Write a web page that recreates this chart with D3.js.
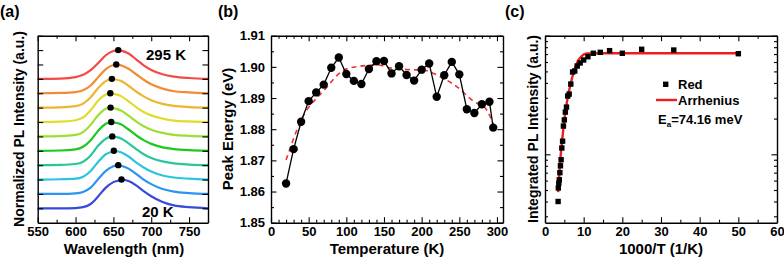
<!DOCTYPE html>
<html>
<head>
<meta charset="utf-8">
<script src="https://cdn.jsdelivr.net/npm/d3@7"></script>
<style>
  body { margin: 0; background: #fff; }
  svg { display: block; font-family: "Liberation Sans", Arial, sans-serif; font-weight: bold; }
</style>
</head>
<body>
<svg id="chart" width="784" height="259"></svg>
<script>
// ---------------- panel (a): stacked PL spectra, 20 K (bottom) -> 295 K (top)
const wavelengths = [550, 580, 600, 610, 620, 630, 640, 650, 660, 670, 680, 690, 700, 715, 730, 750, 775];
const spectra = [
  [0, 0, 0.01, 0.04, 0.15, 0.42, 0.72, 0.91, 0.99, 0.95, 0.80, 0.60, 0.42, 0.22, 0.10, 0.04, 0],
  [0, 0, 0.02, 0.07, 0.22, 0.52, 0.80, 0.96, 0.98, 0.88, 0.70, 0.50, 0.34, 0.17, 0.08, 0.03, 0],
  [0, 0.01, 0.03, 0.10, 0.30, 0.62, 0.88, 0.99, 0.95, 0.80, 0.60, 0.42, 0.28, 0.14, 0.07, 0.03, 0],
  [0, 0.01, 0.04, 0.12, 0.34, 0.68, 0.92, 0.99, 0.93, 0.76, 0.56, 0.38, 0.25, 0.13, 0.06, 0.02, 0],
  [0, 0.01, 0.05, 0.14, 0.37, 0.70, 0.94, 0.99, 0.92, 0.74, 0.54, 0.37, 0.24, 0.12, 0.06, 0.02, 0],
  [0, 0.01, 0.05, 0.15, 0.40, 0.74, 0.96, 0.98, 0.90, 0.72, 0.52, 0.35, 0.23, 0.12, 0.05, 0.02, 0],
  [0, 0.01, 0.06, 0.16, 0.41, 0.75, 0.96, 0.98, 0.90, 0.72, 0.52, 0.35, 0.23, 0.12, 0.05, 0.02, 0],
  [0, 0.01, 0.05, 0.14, 0.36, 0.68, 0.92, 0.99, 0.93, 0.76, 0.56, 0.39, 0.26, 0.13, 0.06, 0.02, 0],
  [0, 0.01, 0.04, 0.10, 0.27, 0.56, 0.84, 0.98, 0.97, 0.85, 0.66, 0.47, 0.31, 0.16, 0.07, 0.03, 0],
  [0, 0.01, 0.06, 0.14, 0.30, 0.55, 0.82, 0.97, 0.98, 0.88, 0.68, 0.47, 0.31, 0.16, 0.08, 0.03, 0]
];
const peakWl = [660.7, 656.4, 650.6, 648.5, 647.2, 646.3, 645.9, 648.0, 653.8, 656.4];
const curveColors = ["#3a48dc", "#2b93f0", "#2cc4dc", "#28c79a", "#1ec81e",
                     "#9ede32", "#e0dc2a", "#ecb634", "#f28c34", "#f24a46"];

// ---------------- panel (b): peak energy vs temperature
const temps = [20, 30, 40, 50, 60, 70, 80, 90, 100, 110, 120, 130, 140, 150, 160,
               170, 180, 190, 200, 210, 220, 230, 240, 250, 260, 270, 280, 290, 295];
const peakEnergy = [1.8626, 1.8736, 1.8824, 1.8890, 1.8918, 1.8943, 1.8997, 1.9030, 1.8977, 1.8955,
                    1.8945, 1.8993, 1.9018, 1.9019, 1.8979, 1.9002, 1.8974, 1.8956, 1.8991, 1.9011,
                    1.8904, 1.8973, 1.9016, 1.8976, 1.8864, 1.8852, 1.8880, 1.8888, 1.8805];
const fitT = [20, 40, 71, 97, 115, 142, 159, 186, 203, 225, 247, 270, 283, 291, 295];
const fitE = [1.8701, 1.8829, 1.8926, 1.8990, 1.9001, 1.9006, 1.8996, 1.8991, 1.8989, 1.8968,
              1.8936, 1.8888, 1.8872, 1.8840, 1.8815];

// ---------------- panel (c): integrated intensity vs 1000/T (log, a.u.)
const invT = [50, 33.3, 25, 20, 16.7, 14.3, 12.5, 11.1, 10, 9.09, 8.33, 7.69, 7.14, 6.67, 6.25,
              5.88, 5.56, 5.26, 5.0, 4.76, 4.55, 4.35, 4.17, 4.0, 3.85, 3.70, 3.57, 3.45, 3.39];
const intensity = [7.05, 7.57, 7.68, 7.11, 7.48, 7.24, 7.11, 6.65, 6.24, 5.89, 5.55, 5.04, 4.94, 3.91, 3.22,
                   3.10, 2.50, 2.27, 1.95, 1.73, 1.29, 1.13, 0.90, 0.80, 0.70, 0.61, 0.57, 0.52, 0.40];
const arrX = [3.4, 3.9, 4.5, 5, 5.5, 6, 6.5, 7.5, 8.5, 9.5, 10.8, 15, 30, 50];
const arrY = [0.48, 0.85, 1.37, 1.95, 2.55, 3.16, 3.77, 5.04, 6.12, 6.74, 7.08, 7.11, 7.11, 7.11];

const svg = d3.select("#chart");
const FONT_TICK = 13;

// Origin-style box: ticks pointing inward on all four sides
function frame(g, x, y, o) {
    const [xl, xr] = x.range();
    const [yb, yt] = y.range();
    const sides = [
        { ax: d3.axisBottom, sc: x, t: `translate(0,${yb})`, major: o.xMajor, minor: o.xMinor, fmt: o.xFmt },
        { ax: d3.axisTop,    sc: x, t: `translate(0,${yt})`, major: o.xMajor, minor: o.xMinor, fmt: null },
        { ax: d3.axisLeft,   sc: y, t: `translate(${xl},0)`, major: o.yMajor, minor: o.yMinor, fmt: o.yFmt },
        { ax: d3.axisRight,  sc: y, t: `translate(${xr},0)`, major: o.yMajor, minor: o.yMinor, fmt: null }
    ];
    for (const s of sides) {
        g.append("g").attr("transform", s.t)
            .call(s.ax(s.sc).tickValues(s.minor).tickSizeInner(-3).tickSizeOuter(0).tickFormat(""))
            .call(a => a.select(".domain").remove());
        const a = g.append("g").attr("transform", s.t)
            .call(s.ax(s.sc).tickValues(s.major).tickSizeInner(-5.5).tickSizeOuter(0)
                .tickPadding(s.ax === d3.axisLeft ? 6 : 4)
                .tickFormat(s.fmt ? s.fmt : ""));
        a.select(".domain").attr("stroke-width", 1.4);
        a.selectAll("text").attr("font-size", FONT_TICK).attr("fill", "#000")
            .attr("font-family", "Liberation Sans, Arial, sans-serif").attr("font-weight", "bold");
    }
    g.selectAll(".tick line").attr("stroke-width", 1.1);
}

function label(g, txt, x, y, size, rotate) {
    const t = g.append("text").attr("font-size", size).attr("text-anchor", "middle").text(txt);
    if (rotate) t.attr("transform", `translate(${x},${y}) rotate(-90)`);
    else t.attr("x", x).attr("y", y);
    return t;
}

// ======================= panel (a)
{
    const g = svg.append("g");
    const x = d3.scaleLinear().domain([550, 775]).range([37.7, 208]);
    const y = d3.scaleLinear().domain([-0.5, 6]).range([222.7, 35.7]);
    const step = 0.5;

    const line = d3.line().x(d => x(d[0])).y(d => y(d[1])).curve(d3.curveMonotoneX);
    spectra.forEach((vals, i) => {
        const pts = wavelengths.map((w, k) => [w, vals[k] + i * step]);
        pts.push([peakWl[i], 1 + i * step]);
        pts.sort((p, q) => p[0] - q[0]);
        g.append("path").datum(pts)
            .attr("fill", "none").attr("stroke", curveColors[i]).attr("stroke-width", 2.2)
            .attr("d", line);
    });
    g.selectAll("circle.pk").data(peakWl).enter().append("circle")
        .attr("cx", d => x(d)).attr("cy", (d, i) => y(1 + i * step))
        .attr("r", 3.2).attr("fill", "#000");

    frame(g, x, y, {
        xMajor: [550, 600, 650, 700, 750], xMinor: [575, 625, 675, 725, 775], xFmt: d3.format("d"),
        yMajor: d3.range(0, 6.01, 0.5), yMinor: [], yFmt: null
    });

    g.append("text").attr("x", 146).attr("y", 59.5).attr("font-size", 15).text("295 K");
    g.append("text").attr("x", 142).attr("y", 217).attr("font-size", 15).text("20 K");
    label(g, "Wavelength (nm)", 124, 253.5, 15);
    label(g, "Normalized PL Intensity (a.u.)", 24, 129, 14, true);
    g.append("text").attr("x", 0).attr("y", 17).attr("font-size", 16).text("(a)");
}

// ======================= panel (b)
{
    const g = svg.append("g");
    const x = d3.scaleLinear().domain([0, 308]).range([271, 503]);
    const y = d3.scaleLinear().domain([1.85, 1.91]).range([222.7, 35.7]);

    g.append("path").datum(d3.zip(fitT, fitE))
        .attr("fill", "none").attr("stroke", "#f03030").attr("stroke-width", 1.6)
        .attr("stroke-dasharray", "5,4")
        .attr("d", d3.line().x(d => x(d[0])).y(d => y(d[1])).curve(d3.curveMonotoneX));

    const pts = d3.zip(temps, peakEnergy);
    g.append("path").datum(pts)
        .attr("fill", "none").attr("stroke", "#000").attr("stroke-width", 1.3)
        .attr("d", d3.line().x(d => x(d[0])).y(d => y(d[1])));
    g.selectAll("circle.pt").data(pts).enter().append("circle")
        .attr("cx", d => x(d[0])).attr("cy", d => y(d[1])).attr("r", 4.2).attr("fill", "#000");

    frame(g, x, y, {
        xMajor: [0, 50, 100, 150, 200, 250, 300], xMinor: d3.range(10, 301, 10).filter(v => v % 50),
        xFmt: d3.format("d"),
        yMajor: [1.85, 1.86, 1.87, 1.88, 1.89, 1.90, 1.91], yMinor: [1.855, 1.865, 1.875, 1.885, 1.895, 1.905],
        yFmt: d3.format(".2f")
    });

    label(g, "Temperature (K)", 387, 253.5, 15);
    label(g, "Peak Energy (eV)", 232.5, 129, 15, true);
    g.append("text").attr("x", 218).attr("y", 17).attr("font-size", 16).text("(b)");
}

// ======================= panel (c)
{
    const g = svg.append("g");
    const x = d3.scaleLinear().domain([0, 60]).range([545, 777]);
    const y = d3.scaleLog().domain([0.265, 10]).range([222.7, 35.7]);

    g.append("path").datum(d3.zip(arrX, arrY))
        .attr("fill", "none").attr("stroke", "#f01c1c").attr("stroke-width", 2.4)
        .attr("d", d3.line().x(d => x(d[0])).y(d => y(d[1])).curve(d3.curveMonotoneX));

    const s = 5.4;
    g.selectAll("rect.pt").data(d3.zip(invT, intensity)).enter().append("rect")
        .attr("x", d => x(d[0]) - s / 2).attr("y", d => y(d[1]) - s / 2)
        .attr("width", s).attr("height", s).attr("fill", "#000");

    frame(g, x, y, {
        xMajor: [0, 10, 20, 30, 40, 50, 60], xMinor: [5, 15, 25, 35, 45, 55], xFmt: d3.format("d"),
        yMajor: [1, 10], yMinor: [0.3, 0.4, 0.5, 0.6, 0.7, 0.8, 0.9, 2, 3, 4, 5, 6, 7, 8, 9], yFmt: null
    });

    // legend
    g.append("rect").attr("x", 665.7 - s / 2).attr("y", 84.3 - s / 2).attr("width", s).attr("height", s).attr("fill", "#000");
    g.append("text").attr("x", 678).attr("y", 89).attr("font-size", 13).text("Red");
    g.append("line").attr("x1", 656).attr("x2", 677).attr("y1", 100).attr("y2", 100)
        .attr("stroke", "#f01c1c").attr("stroke-width", 2.4);
    g.append("text").attr("x", 678).attr("y", 105).attr("font-size", 13).text("Arrhenius");
    const ea = g.append("text").attr("x", 658).attr("y", 123.5).attr("font-size", 13);
    ea.append("tspan").text("E");
    ea.append("tspan").attr("font-size", 8).attr("dy", 3).text("a");
    ea.append("tspan").attr("dy", -3).text("=74.16 meV");

    label(g, "1000/T (1/K)", 661, 253.5, 15);
    label(g, "Integrated PL Intensity (a.u.)", 537.5, 129, 14, true);
    g.append("text").attr("x", 505).attr("y", 17).attr("font-size", 16).text("(c)");
}
</script>
</body>
</html>
